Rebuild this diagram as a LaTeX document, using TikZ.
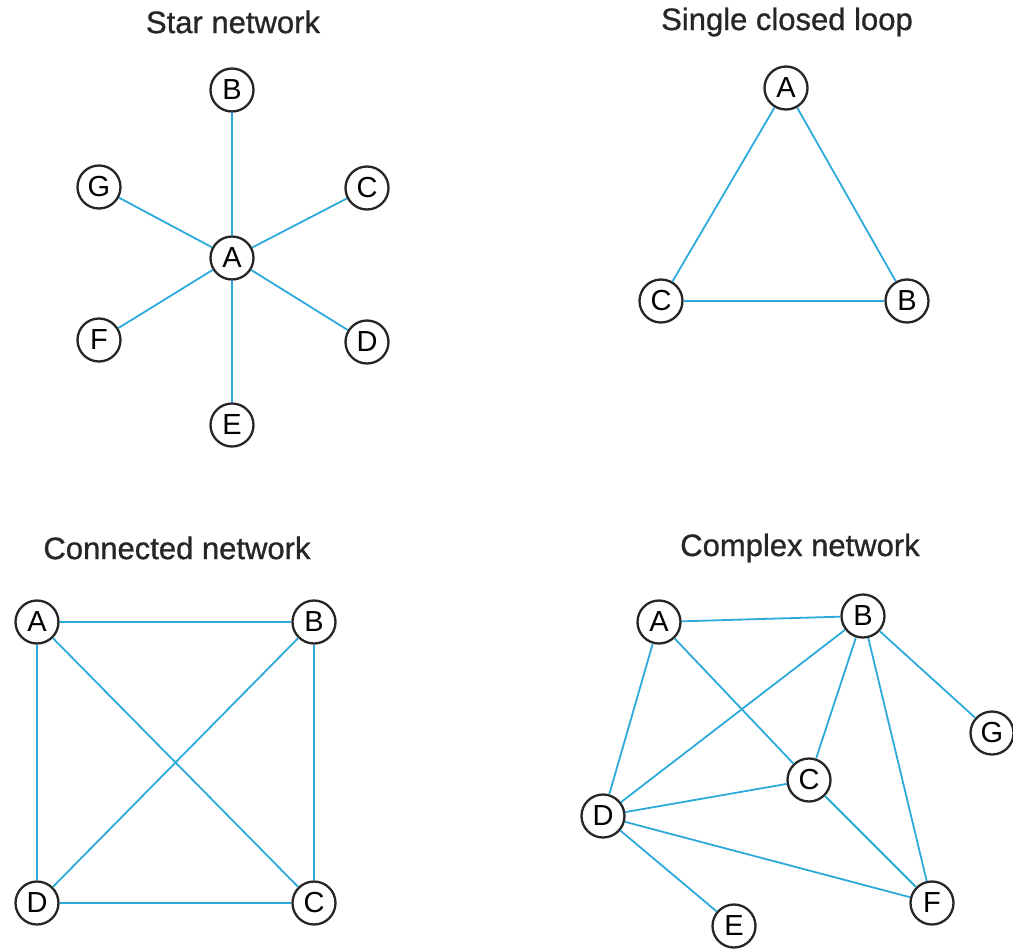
\documentclass[tikz,border=0pt]{standalone}
\usepackage{fontspec}
\setmainfont{Liberation Sans}
\newfontfamily\ttlfont[FakeBold=0.9]{Liberation Sans}
\usepackage{tikz}
\usetikzlibrary{positioning}
\definecolor{linkblue}{RGB}{45,170,220}

\tikzset{
  vtx/.style={draw=black!85,circle,line width=2.3pt,fill=white,minimum size=43pt,inner sep=0pt,font=\fontsize{29}{30}\selectfont},
  link/.style={draw=linkblue,line width=1.8pt},
  ttl/.style={font=\ttlfont\fontsize{31}{34}\selectfont,text=black!85}
}

\begin{document}
\begin{tikzpicture}[x=1pt,y=-1pt]
    \useasboundingbox (0,0) rectangle (1013,951);
    % Star network
    \node[ttl] (startitle) at (233,22) {Star network};
    \node[vtx] (sA) at (232,258) {A};
    \node[vtx] (sB) at (232,90) {B};
    \node[vtx] (sC) at (367,188) {C};
    \node[vtx] (sD) at (367,342) {D};
    \node[vtx] (sE) at (232,425) {E};
    \node[vtx] (sF) at (99,340) {F};
    \node[vtx] (sG) at (99,187) {G};
    \foreach \n in {sB,sC,sD,sE,sF,sG}
        \draw[link] (sA) -- (\n);

    % Single closed loop
    \node[ttl] (looptitle) at (787,22) {Single closed loop};
    \node[vtx] (lA) at (786,88) {A};
    \node[vtx] (lB) at (907,301) {B};
    \node[vtx] (lC) at (661,301) {C};
    \draw[link] (lA) -- (lB) (lB) -- (lC) (lC) -- (lA);

    % Connected network
    \node[ttl] (conntitle) at (177,548) {Connected network};
    \node[vtx] (cA) at (37,622) {A};
    \node[vtx] (cB) at (314,622) {B};
    \node[vtx] (cC) at (314,903) {C};
    \node[vtx] (cD) at (37,903) {D};
    \draw[link] (cA) -- (cB) (cB) -- (cC) (cC) -- (cD) (cD) -- (cA);
    \draw[link] (cA) -- (cC) (cB) -- (cD);

    % Complex network
    \node[ttl] (cplxtitle) at (800,548) {Complex network};
    \node[vtx] (xA) at (659,622) {A};
    \node[vtx] (xB) at (863,616) {B};
    \node[vtx] (xC) at (809,780) {C};
    \node[vtx] (xD) at (603,816) {D};
    \node[vtx] (xE) at (734,926) {E};
    \node[vtx] (xF) at (932,903) {F};
    \node[vtx] (xG) at (992,733) {G};
    \draw[link] (xA) -- (xB) (xA) -- (xD) (xA) -- (xC);
    \draw[link] (xB) -- (xD) (xB) -- (xC) (xB) -- (xF) (xB) -- (xG);
    \draw[link] (xD) -- (xC) (xD) -- (xF) (xD) -- (xE) (xC) -- (xF);
\end{tikzpicture}
\end{document}
